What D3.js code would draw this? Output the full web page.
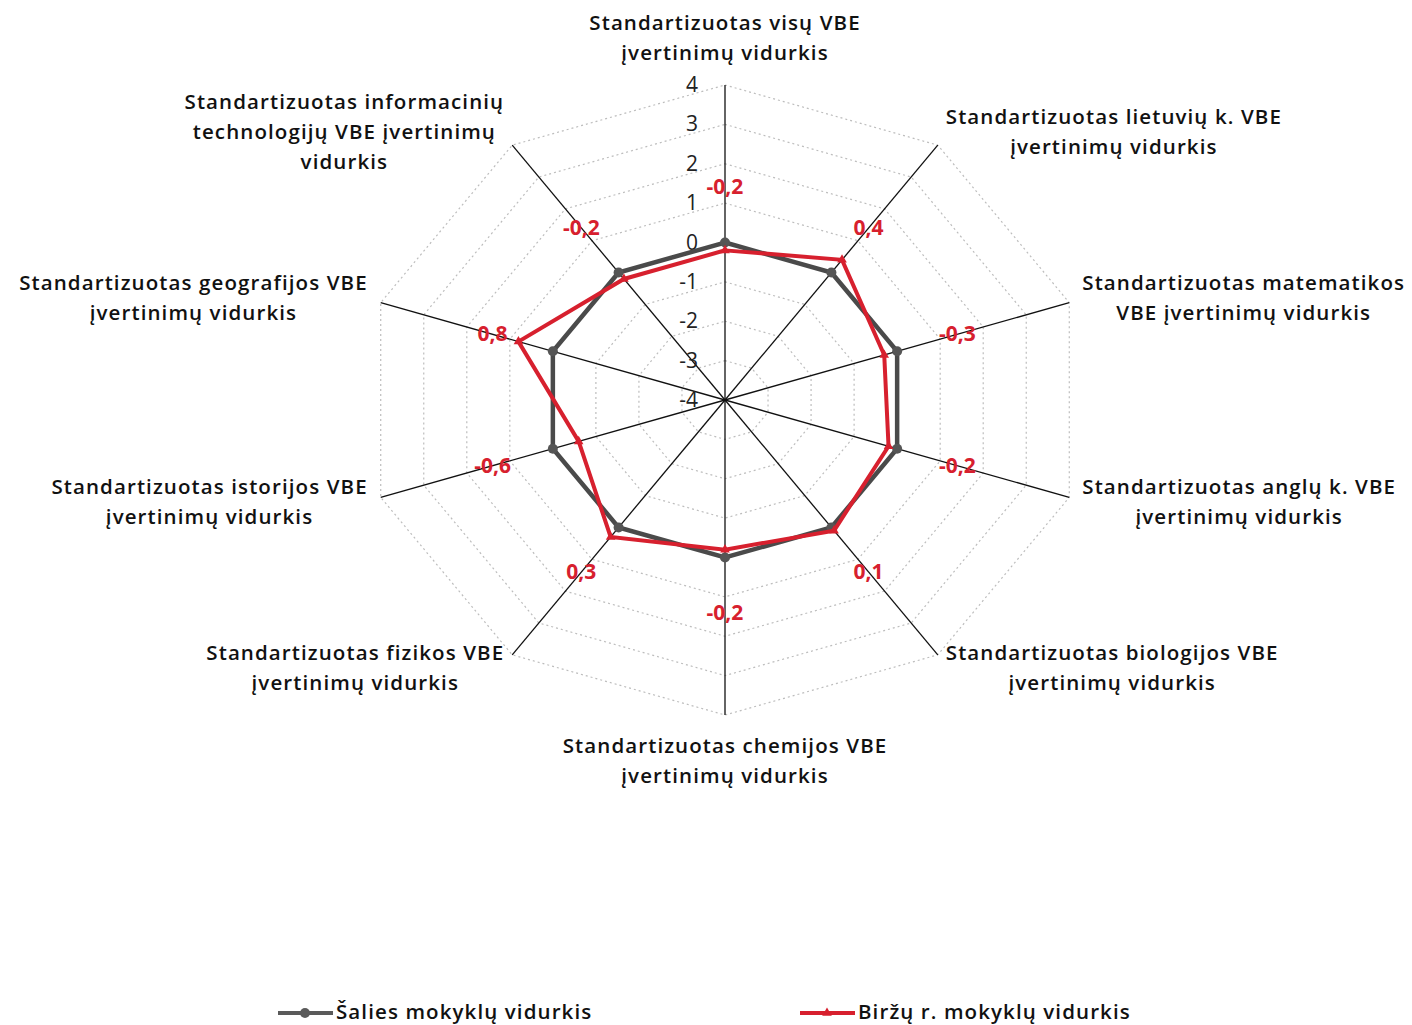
<!DOCTYPE html>
<html>
<head>
<meta charset="utf-8">
<script src="https://cdn.jsdelivr.net/npm/d3@7"></script>
<style>
  body { margin: 0; background: #fff; }
  svg text { font-family: "Open Sans", "Noto Sans", sans-serif; fill: #111; }
</style>
</head>
<body>
<svg id="chart" width="1412" height="1025"></svg>
<script>
// axis categories (clockwise from top), each split into display lines
let categories = [
  ['Standartizuotas visų VBE', 'įvertinimų vidurkis'],
  ['Standartizuotas lietuvių k. VBE', 'įvertinimų vidurkis'],
  ['Standartizuotas matematikos', 'VBE įvertinimų vidurkis'],
  ['Standartizuotas anglų k. VBE', 'įvertinimų vidurkis'],
  ['Standartizuotas biologijos VBE', 'įvertinimų vidurkis'],
  ['Standartizuotas chemijos VBE', 'įvertinimų vidurkis'],
  ['Standartizuotas fizikos VBE', 'įvertinimų vidurkis'],
  ['Standartizuotas istorijos VBE', 'įvertinimų vidurkis'],
  ['Standartizuotas geografijos VBE', 'įvertinimų vidurkis'],
  ['Standartizuotas informacinių', 'technologijų VBE įvertinimų', 'vidurkis']
];

let saliesValues = [0, 0, 0, 0, 0, 0, 0, 0, 0, 0];
let birzuValues = [-0.2, 0.4, -0.3, -0.2, 0.1, -0.2, 0.3, -0.6, 0.8, -0.2];

let tickValues = [-4, -3, -2, -1, 0, 1, 2, 3, 4];
let seriesNames = ['Šalies mokyklų vidurkis', 'Biržų r. mokyklų vidurkis'];

let cx = 725, cy = 400;
let rx = 362, ry = 315;   // the chart is stretched a bit horizontally
let labelValue = 1.4;      // where the red value labels sit

let svg = d3.select('#chart');

// normalised radius 0..1
let rScale = d3.scaleLinear().domain([-4, 4]).range([0, 1]);

let angle = (i) => i * 2 * Math.PI / categories.length;
let px = (i, v) => cx + Math.sin(angle(i)) * rScale(v) * rx;
let py = (i, v) => cy - Math.cos(angle(i)) * rScale(v) * ry;

let labelStyle = (sel, size) => sel
  .attr('font-size', size)
  .attr('font-weight', 600)
  .attr('letter-spacing', 1.1);

// grid rings (dotted)
let ringLine = d3.line().x(d => d[0]).y(d => d[1]).curve(d3.curveLinearClosed);
tickValues.slice(1).forEach(t => {
  let pts = categories.map((c, i) => [px(i, t), py(i, t)]);
  svg.append('path')
     .attr('d', ringLine(pts))
     .attr('fill', 'none')
     .attr('stroke', '#bdbdbd')
     .attr('stroke-width', 1.2)
     .attr('stroke-dasharray', '2,3');
});

// spokes
svg.selectAll('.spoke')
   .data(categories)
   .enter()
   .append('line')
   .attr('class', 'spoke')
   .attr('x1', cx).attr('y1', cy)
   .attr('x2', (d, i) => px(i, 4))
   .attr('y2', (d, i) => py(i, 4))
   .attr('stroke', '#111')
   .attr('stroke-width', 1.3);

// tick labels along the top spoke
svg.selectAll('.tick')
   .data(tickValues)
   .enter()
   .append('text')
   .attr('class', 'tick')
   .attr('x', cx - 27)
   .attr('y', d => py(0, d) + 7)
   .attr('text-anchor', 'end')
   .attr('font-size', 21)
   .style('fill', '#222')
   .text(d => d);

// series
let drawSeries = (values, color, width) => {
  let pts = values.map((v, i) => [px(i, v), py(i, v)]);
  svg.append('path')
     .attr('d', ringLine(pts))
     .attr('fill', 'none')
     .attr('stroke', color)
     .attr('stroke-width', width)
     .attr('stroke-linejoin', 'miter');
  return pts;
};

let grayPts = drawSeries(saliesValues, '#4a4a4a', 4.5);
svg.selectAll('.gdot')
   .data(grayPts)
   .enter()
   .append('circle')
   .attr('class', 'gdot')
   .attr('cx', d => d[0]).attr('cy', d => d[1])
   .attr('r', 5)
   .attr('fill', '#555');

let redPts = drawSeries(birzuValues, '#d7202e', 4);
let tri = d3.symbol().type(d3.symbolTriangle).size(40);
svg.selectAll('.rmark')
   .data(redPts)
   .enter()
   .append('path')
   .attr('class', 'rmark')
   .attr('d', tri)
   .attr('transform', d => 'translate(' + d[0] + ',' + d[1] + ')')
   .attr('fill', '#d7202e');

// red value labels
svg.selectAll('.vlabel')
   .data(birzuValues)
   .enter()
   .append('text')
   .attr('class', 'vlabel')
   .attr('x', (d, i) => px(i, labelValue))
   .attr('y', (d, i) => py(i, labelValue) + 7)
   .attr('text-anchor', 'middle')
   .attr('font-size', 21)
   .attr('font-weight', 'bold')
   .style('fill', '#d7202e')
   .text(d => String(d).replace('.', ','));

// category labels
let lineH = 30;
categories.forEach((lines, i) => {
  let ex = px(i, 4), ey = py(i, 4);
  let s = Math.sin(angle(i)), c = Math.cos(angle(i));
  let g = svg.append('g');
  let texts = lines.map((t, k) => g.append('text')
      .attr('text-anchor', 'middle')
      .call(labelStyle, 20.5)
      .text(t));
  let w = d3.max(texts, t => t.node().getComputedTextLength());
  let n = lines.length;
  let bx, by; // box centre
  if (Math.abs(s) < 0.01) {
    bx = ex;
    by = c > 0 ? ey - 17 - n * lineH / 2 : ey + 16 + n * lineH / 2;
  } else {
    let pad = Math.abs(s) > 0.9 ? 13 : 8;
    bx = s > 0 ? ex + pad + w / 2 : ex - pad - w / 2;
    by = ey - c * 16;
  }
  texts.forEach((t, k) => {
    t.attr('x', bx).attr('y', by - n * lineH / 2 + k * lineH + 22);
  });
});

// legend
let legend = [
  { name: seriesNames[0], color: '#5a5a5a', x: 278, mark: 'circle' },
  { name: seriesNames[1], color: '#d7202e', x: 800, mark: 'tri' }
];
let ly = 1013;
legend.forEach(l => {
  svg.append('line')
     .attr('x1', l.x).attr('x2', l.x + 55)
     .attr('y1', ly).attr('y2', ly)
     .attr('stroke', l.color).attr('stroke-width', 4);
  if (l.mark === 'circle') {
    svg.append('circle').attr('cx', l.x + 27).attr('cy', ly).attr('r', 5).attr('fill', l.color);
  } else {
    svg.append('path').attr('d', tri).attr('transform', 'translate(' + (l.x + 27) + ',' + ly + ')').attr('fill', l.color);
  }
  svg.append('text')
     .attr('x', l.x + 58).attr('y', ly + 6)
     .call(labelStyle, 20.5)
     .text(l.name);
});
</script>
</body>
</html>
